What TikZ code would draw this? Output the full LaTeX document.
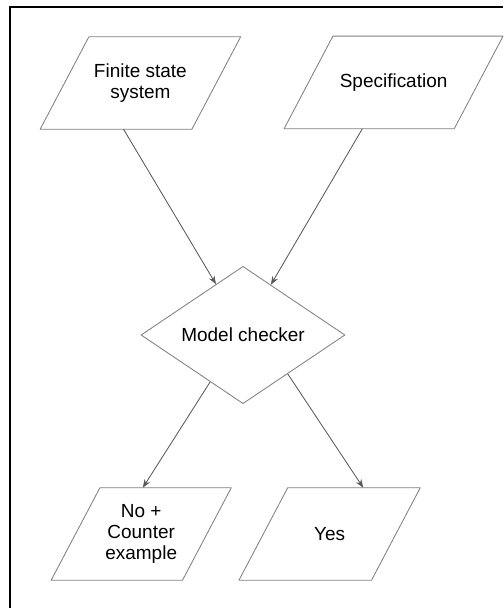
\documentclass[tikz,border=0pt]{standalone}
\usepackage{fontspec}
\setmainfont{Liberation Sans}
\usetikzlibrary{arrows.meta, shapes.geometric, calc}

\tikzset{
  io/.style={rectangle, minimum height=2.3cm, inner sep=0pt, align=center,
    font=\fontsize{13.5}{15}\selectfont},
  ioline/.style={draw=black!50, line width=0.6pt, line join=round},
  decision/.style={diamond, draw=black!50, line width=0.6pt,
    minimum width=5.1cm, minimum height=3.35cm, inner sep=0pt,
    font=\fontsize{13.5}{15}\selectfont},
  flow/.style={-{Stealth[length=6pt, width=4.5pt]}, draw=black!65, line width=0.6pt}
}
% slanted outline round a named io node
\newcommand{\drawio}[1]{%
  \draw[ioline] ($(#1.south west)+(-0.61,0)$) -- ($(#1.south east)+(-0.61,0)$)
    -- ($(#1.north east)+(0.61,0)$) -- ($(#1.north west)+(0.61,0)$) -- cycle;}

\begin{document}
\begin{tikzpicture}
    \useasboundingbox (0, 0) rectangle (12.575, 15.2);
    % frame
    \draw[line width=2pt] (12.575, 15.025) -- (0.25, 15.025) -- (0.25, 0);

    % inputs
    \node[io, minimum width=3.78cm] (fss) at (3.51, 13.125) {Finite state\\system};
    \node[io, minimum width=4.24cm] (spec) at (9.84, 13.14) {Specification};
    \drawio{fss}
    \drawio{spec}

    % checker
    \node[decision] (mc) at (6.075, 6.825) {Model checker};

    % outcomes
    \node[io, minimum width=3.27cm] (cex) at (3.53, 1.85) {No +\\Counter\\example};
    \node[io, minimum width=3.3cm] (yes) at (8.24, 1.85) {Yes};
    \drawio{cex}
    \drawio{yes}

    % arrows
    \draw[flow] (fss.-110) -- (mc.118);
    \draw[flow] (spec.-124) -- (mc.61);
    \draw[flow] (mc.-125) -- (cex.88);
    \draw[flow] (mc.-41) -- (yes.54);
\end{tikzpicture}
\end{document}
